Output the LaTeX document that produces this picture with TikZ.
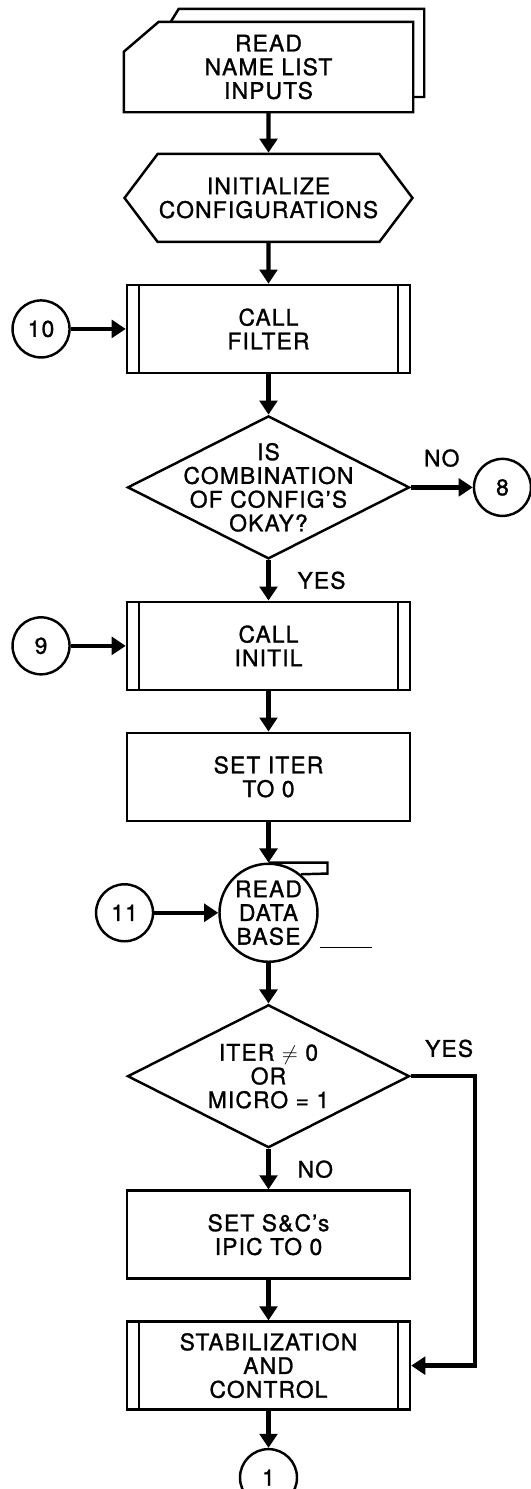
\documentclass[tikz,border=0pt]{standalone}
\usepackage{fontspec}
\setmainfont[LetterSpace=5, FakeBold=1.2]{TeX Gyre Heros}
\usepackage{tikz}
\usetikzlibrary{
  shapes.geometric, shapes.symbols,
  arrows.meta, positioning, calc
}

\begin{document}
\begin{tikzpicture}[
    node distance=0.81cm and 1.1cm,
    every node/.style={font=\fontsize{13}{13.5}\selectfont, align=center},
    ln/.style={line width=1.4pt},
    proc/.style={rectangle, draw, ln, minimum width=5.66cm, minimum height=1.76cm},
    sub/.style={proc, path picture={
        \draw[ln] ([xshift=0.24cm]path picture bounding box.north west)
                  -- ([xshift=0.24cm]path picture bounding box.south west);
        \draw[ln] ([xshift=-0.24cm]path picture bounding box.north east)
                  -- ([xshift=-0.24cm]path picture bounding box.south east);}},
    card/.style={rectangle, ln, minimum width=5.74cm, minimum height=1.76cm, inner sep=0pt},
    prep/.style={signal, signal to=west and east, signal pointer angle=106,
                 draw, ln, minimum width=5.76cm, minimum height=1.76cm, inner sep=0pt},
    dec/.style={diamond, draw, ln, minimum width=5.64cm, minimum height=2.86cm, inner sep=0pt},
    store/.style={circle, draw, ln, minimum size=1.96cm, inner sep=0pt},
    conn/.style={circle, draw, ln, minimum size=1.14cm, inner sep=0pt},
    arr/.style={-{Triangle[width=10pt,length=8pt]}, line width=2.5pt}
  ]
    \useasboundingbox (0,0) rectangle (10.62,-29.78);

    % main column
    \node[card] (input) at (5.37,-1.34) {READ\\NAME LIST\\INPUTS};
    \node[prep, below=of input]  (init)    {INITIALIZE\\CONFIGURATIONS};
    \node[sub,  below=of init]   (filter)  {CALL\\FILTER};
    \node[dec,  below=of filter, label={[name=chktxt]center:IS\\COMBINATION\\OF CONFIG'S\\OKAY?}] (chk) {};
    \node[sub,  below=of chk]    (initil)  {CALL\\INITIL};
    \node[proc, below=of initil] (setiter) {SET ITER\\TO 0};
    \node[store, below=of setiter] (readdb) {READ\\DATA\\BASE};
    \node[dec,  below=of readdb, label={[name=itertxt]center:ITER $\neq$ 0\\OR\\MICRO = 1}] (iter) {};
    \node[proc, below=of iter]   (setsc)   {SET S\&C's\\IPIC TO 0};
    \node[sub,  below=of setsc]  (stab)    {STABILIZATION\\AND\\CONTROL};
    \node[conn, below=0.74cm of stab] (c1) {1};

    % off-page connectors
    \node[conn, left=1.1cm of filter]  (c10) {10};
    \node[conn, right=1.24cm of chk]   (c8)  {8};
    \node[conn, left=1.1cm of initil]  (c9)  {9};
    \node[conn, left=1.28cm of readdb] (c11) {11};

    % input card with cut corner, and the card behind it
    \draw[ln] ([yshift=-0.6cm]input.north west) -- ([xshift=0.7cm]input.north west)
      -- (input.north east) -- (input.south east) -- (input.south west) -- cycle;
    \draw[ln] ([xshift=0.94cm]input.north west) -- ++(0.16,0.26)
      -| ([xshift=0.22cm,yshift=-0.6cm]input.east) -- ([yshift=-0.6cm]input.east);
    % tab and tail of the data base symbol
    \draw[ln] (readdb.north) -- ++(1.18,0) -- ++(0,-0.22) -- (readdb.50);
    \draw[line width=0.8pt] ([xshift=0.3cm]readdb.-44) -- ++(1.04,0);

    \draw[arr] (input)   -- (init);
    \draw[arr] (init)    -- (filter);
    \draw[arr] (c10)     -- (filter);
    \draw[arr] (filter)  -- (chk);
    \draw[arr] (chk)     -- node[above=0.25cm]{NO} (c8);
    \draw[arr] (chk)     -- node[right=0.42cm]{YES} (initil);
    \draw[arr] (c9)      -- (initil);
    \draw[arr] (initil)  -- (setiter);
    \draw[arr] (setiter) -- (readdb);
    \draw[arr] (c11)     -- (readdb);
    \draw[arr] (readdb)  -- (iter);
    \draw[arr] (iter)    -- node[right=0.42cm]{NO} (setsc);
    \draw[arr] (iter.east) -- ++(1.28,0) node[above=0.22cm, pos=0.6]{YES} |- (stab.east);
    \draw[arr] (setsc)   -- (stab);
    \draw[arr] (stab)    -- (c1);

  \end{tikzpicture}
\end{document}
